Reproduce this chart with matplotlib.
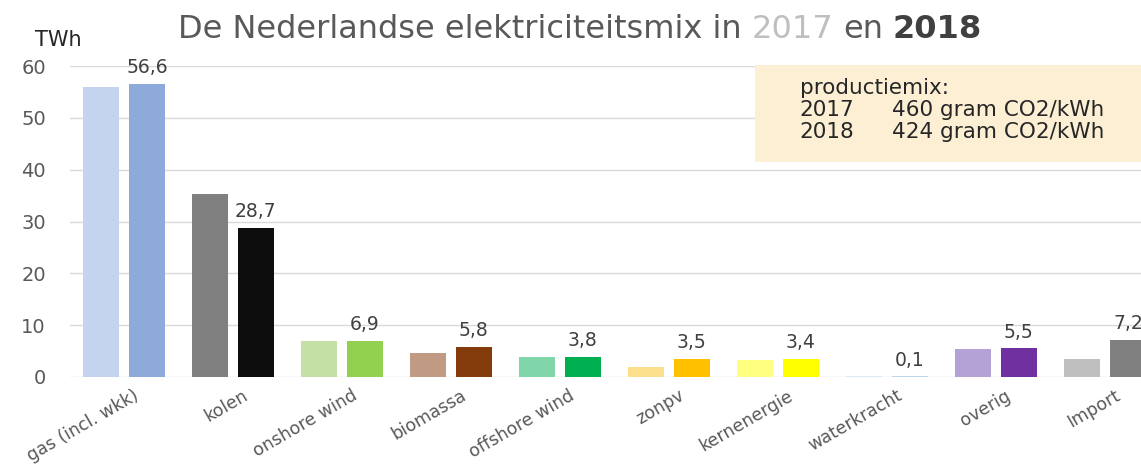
import numpy as np
import matplotlib.pyplot as plt
from matplotlib.patches import Rectangle
from matplotlib.transforms import ScaledTranslation

# categorieen en waarden (TWh)
categories = ['gas (incl. wkk)', 'kolen', 'onshore wind', 'biomassa', 'offshore wind',
              'zonpv', 'kernenergie', 'waterkracht', 'overig', 'Import']
twh_2017 = [56.0, 35.3, 7.0, 4.7, 3.9, 2.0, 3.3, 0.1, 5.4, 3.4]
twh_2018 = [56.6, 28.7, 6.9, 5.8, 3.8, 3.5, 3.4, 0.1, 5.5, 7.2]

colors_2017 = ['#c5d4ee', '#808080', '#c5e0a5', '#c09a82', '#80d6a8',
               '#fcdf8c', '#ffff80', '#dde9f6', '#b4a2d6', '#bfbfbf']
colors_2018 = ['#8eaadb', '#0d0d0d', '#92d050', '#843c0c', '#00b050',
               '#ffc000', '#ffff00', '#bdd7ee', '#7030a0', '#808080']

co2_years = ['2017', '2018']
co2_values = ['460 gram CO2/kWh', '424 gram CO2/kWh']

fig = plt.figure(figsize=(11.41, 4.67), dpi=100)
ax = fig.add_axes([69.5 / 1141, 90 / 467, 1090 / 1141, 311 / 467])

x = np.arange(len(categories))
w = 0.33
ax.bar(x - 0.21, twh_2017, w, color=colors_2017, zorder=2)
bars18 = ax.bar(x + 0.21, twh_2018, w, color=colors_2018, zorder=2)
ax.bar_label(bars18, labels=[f'{v:.1f}'.replace('.', ',') for v in twh_2018],
             padding=5, fontsize=13.5, color='#404040', clip_on=False)

ax.set_xlim(-0.5, len(categories) - 0.5)
ax.set_ylim(0, 60)
ax.set_yticks(range(0, 61, 10))
ax.grid(axis='y', color='#d9d9d9', lw=1, zorder=0)
for s in ax.spines.values():
    s.set_visible(False)
ax.tick_params(axis='both', length=0)
ax.tick_params(axis='y', pad=17, labelsize=14, labelcolor='#595959')

ax.set_xticks(x)
ax.set_xticklabels(categories, rotation=30, ha='right', va='top',
                   rotation_mode='anchor', fontsize=12.5, color='#595959')
ax.tick_params(axis='x', pad=7)
off = ScaledTranslation(0.09, 0, fig.dpi_scale_trans)
for lab in ax.get_xticklabels():
    lab.set_transform(lab.get_transform() + off)

# kader met CO2 intensiteit
ax.add_patch(Rectangle((0.629, 0.691), 0.45, 0.312, transform=ax.transAxes,
                       facecolor='#fcefd4', edgecolor='none', clip_on=False, zorder=3))
ax.text(0.670, 0.929, 'productiemix:', transform=ax.transAxes, fontsize=15.5,
        color='#262626', va='center', zorder=4)
for i, (yr, val) in enumerate(zip(co2_years, co2_values)):
    yy = 0.859 - i * 0.071
    ax.text(0.670, yy, yr, transform=ax.transAxes, fontsize=15.5, color='#262626',
            va='center', zorder=4)
    ax.text(0.755, yy, val, transform=ax.transAxes, fontsize=15.5, color='#262626',
            va='center', zorder=4)

# titel in stukken
fs = 23
t1 = fig.text(178 / 1141, 1 - 38 / 467, 'De Nederlandse elektriciteitsmix in',
              fontsize=fs, color='#595959', va='baseline')
t2 = ax.annotate('2017', xy=(1, 0), xycoords=t1, xytext=(7, 0), textcoords='offset points',
                 fontsize=fs, color='#bfbfbf', va='bottom', annotation_clip=False)
t3 = ax.annotate('en', xy=(1, 0), xycoords=t2, xytext=(7, 0), textcoords='offset points',
                 fontsize=fs, color='#595959', va='bottom', annotation_clip=False)
ax.annotate('2018', xy=(1, 0), xycoords=t3, xytext=(7, 0), textcoords='offset points',
            fontsize=fs, color='#404040', fontweight='bold', va='bottom',
            annotation_clip=False)

fig.text(35 / 1141, 1 - 40 / 467, 'TWh', fontsize=15, color='#262626', va='center')

fig.savefig('out.png', dpi=100)
